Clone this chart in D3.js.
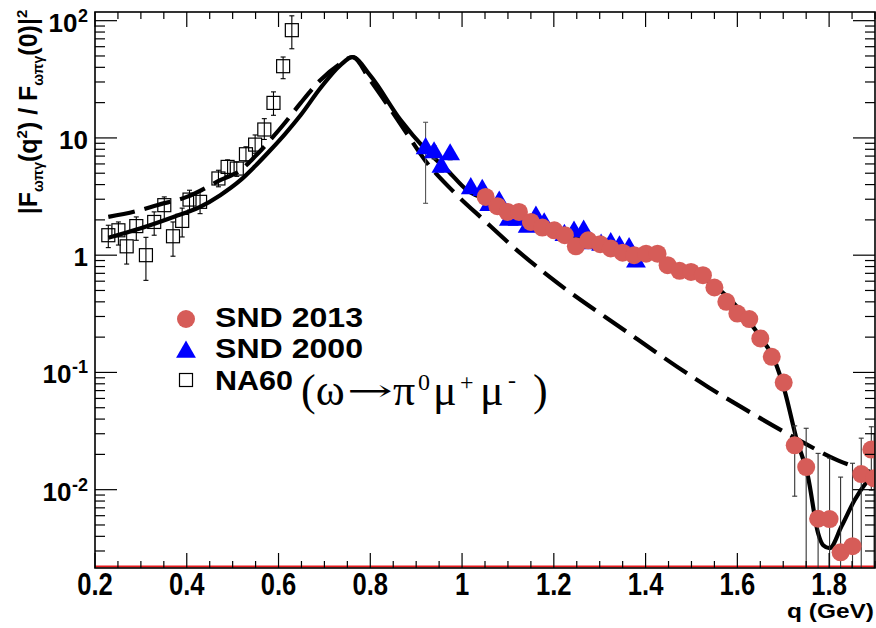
<!DOCTYPE html>
<html><head><meta charset="utf-8">
<script src="https://cdn.jsdelivr.net/npm/d3@7"></script>
<style>body{margin:0;background:#fff}</style>
</head><body><svg id="c" width="876" height="628"></svg>
<script>
// ---- axis data ----
const xDomain=[0.2,1.9];
const yDomain=[Math.pow(10,-2.668),Math.pow(10,2.074)];
const xTickValues=[0.2,0.4,0.6,0.8,1.0,1.2,1.4,1.6,1.8];
const xTickLabels=["0.2","0.4","0.6","0.8","1","1.2","1.4","1.6","1.8"];
const yTickValues=[0.01,0.1,1,10,100];
const yTickBase=["10","10","1","10","10"];
const yTickExp=["-2","-1","","","2"];

// ---- NA60 (open squares) ----
const na60Q=[0.229,0.251,0.269,0.290,0.311,0.329,0.351,0.370,0.390,0.406,0.429,0.469,0.489,0.509,0.529,0.549,0.569,0.589,0.610,0.629];
const na60F=[1.48,1.63,1.19,1.77,1.00,1.92,2.67,1.45,1.96,2.98,2.85,4.51,5.66,5.48,7.26,8.77,11.8,19.9,40.9,83];
const na60Lo=[1.16,1.22,0.84,1.34,0.61,1.48,1.99,0.98,1.43,2.42,2.26,3.83,4.8,4.7,6.25,7.4,9.7,15.6,32,57.6];
const na60Hi=[1.80,1.92,1.53,2.12,1.42,2.34,3.14,1.92,2.52,3.58,3.49,5.3,6.5,6.25,8.4,10.6,14.6,24.7,49,110];

// ---- SND 2000 (blue triangles) ----
const snd00Q=[0.9205,0.939,0.955,0.974,1.019,1.044,1.059,1.081,1.102,1.121,1.143,1.161,1.179,1.223,1.244,1.265,1.281,1.303,1.324,1.343,1.364,1.379];
const snd00F=[8.12,7.5,5.66,7.2,3.70,3.58,2.67,2.85,1.99,1.99,1.74,2.12,1.86,1.48,1.58,1.61,1.26,1.22,1.26,1.18,1.14,0.877];
const snd00Lo=[2.77,6.6,5.1,6.5,3.4,3.3,2.45,2.6,1.85,1.85,1.62,1.97,1.73,1.38,1.47,1.5,1.17,1.13,1.17,1.09,1.05,0.80];
const snd00Hi=[13.6,8.6,6.3,8.0,4.0,3.9,2.9,3.1,2.15,2.15,1.88,2.28,2.0,1.6,1.7,1.73,1.36,1.31,1.36,1.27,1.23,0.95];

// ---- SND 2013 (red circles) ----
const snd13Q=[1.0515,1.077,1.099,1.124,1.150,1.175,1.201,1.224,1.248,1.275,1.301,1.324,1.350,1.375,1.401,1.426,1.448,1.474,1.499,1.525,1.550,1.576,1.600,1.626,1.650,1.675,1.701,1.725,1.750,1.776,1.801,1.825,1.851,1.870,1.892,1.898];
const snd13F=[3.14,2.62,2.34,2.34,1.92,1.72,1.63,1.48,1.19,1.34,1.24,1.14,1.05,1.00,1.03,1.03,0.822,0.735,0.72,0.675,0.53,0.40,0.318,0.285,0.195,0.136,0.082,0.0239,0.0156,0.00565,0.00562,0.00292,0.0033,0.0136,0.0220,0.0125];
const snd13Lo=[3.0,2.5,2.24,2.24,1.84,1.65,1.56,1.42,1.14,1.28,1.18,1.09,1.0,0.95,0.98,0.98,0.78,0.70,0.68,0.64,0.50,0.375,0.295,0.262,0.178,0.122,0.070,0.0088,0.001,0.001,0.001,0.001,0.001,0.001,0.0099,0.001];
const snd13Hi=[3.28,2.74,2.44,2.44,2.0,1.79,1.70,1.54,1.24,1.40,1.30,1.19,1.10,1.05,1.08,1.08,0.865,0.77,0.76,0.71,0.56,0.425,0.342,0.31,0.212,0.152,0.095,0.035,0.0334,0.0204,0.0186,0.0128,0.0168,0.0275,0.0344,0.03];

// ---- theory curves ----
const solidQ=[0.229,0.298,0.371,0.429,0.473,0.517,0.548,0.582,0.615,0.648,0.691,0.735,0.761,0.80,0.866,0.92,0.97,1.011,1.05,1.10,1.15,1.20,1.25,1.30,1.35,1.40,1.45,1.50,1.55,1.60,1.65,1.68,1.703,1.728,1.754,1.776,1.787,1.801,1.827,1.856,1.885,1.90];
const solidF=[1.41,1.69,2.12,2.58,3.25,4.36,5.7,7.85,10.9,15.6,26.5,41.8,48.8,34,14.2,8.0,5.2,3.58,3.0,2.35,1.95,1.65,1.42,1.25,1.1,1.0,0.86,0.72,0.55,0.36,0.2,0.13,0.07,0.028,0.0129,0.00425,0.00336,0.00317,0.00487,0.0082,0.0121,0.0142];
const dashQ=[0.229,0.298,0.335,0.40,0.473,0.517,0.548,0.582,0.615,0.648,0.691,0.735,0.761,0.80,0.84,0.872,0.92,0.982,1.047,1.12,1.186,1.354,1.536,1.608,1.728,1.819,1.899];
const dashF=[2.12,2.42,2.67,3.14,4.36,5.3,6.9,9.6,13.6,19.8,31,43,49,31,18.5,12.1,6.4,3.46,2.0,1.10,0.675,0.229,0.0752,0.0508,0.0273,0.0178,0.0138];

const svg=d3.select("#c");
const L=95,R=875,T=12,B=568;
const x=d3.scaleLinear().domain(xDomain).range([L,R]);
const y=d3.scaleLog().domain(yDomain).range([B,T]);

svg.append("defs").append("clipPath").attr("id","clip")
  .append("rect").attr("x",L).attr("y",T).attr("width",R-L).attr("height",B-T);

const plot=svg.append("g").attr("clip-path","url(#clip)");

// red baseline line
plot.append("line").attr("x1",L).attr("x2",R).attr("y1",B-1.5).attr("y2",B-1.5)
  .attr("stroke","#e8191c").attr("stroke-width",2);

// curves
const line=d3.line().x(d=>x(d[0])).y(d=>y(d[1])).curve(d3.curveMonotoneX);
plot.append("path").datum(dashQ.map((q,i)=>[q,dashF[i]])).attr("d",line)
  .attr("fill","none").attr("stroke","#000").attr("stroke-width",4.2).attr("stroke-dasharray","27,10");
plot.append("path").datum(solidQ.map((q,i)=>[q,solidF[i]])).attr("d",line)
  .attr("fill","none").attr("stroke","#000").attr("stroke-width",4.2);

function errBars(Q,Lo,Hi,color){
  const g=plot.append("g").attr("stroke",color).attr("stroke-width",1.1);
  Q.forEach((q,i)=>{
    const xx=x(q);
    g.append("line").attr("x1",xx).attr("x2",xx).attr("y1",y(Lo[i])).attr("y2",y(Hi[i]));
    g.append("line").attr("x1",xx-2.5).attr("x2",xx+2.5).attr("y1",y(Lo[i])).attr("y2",y(Lo[i]));
    g.append("line").attr("x1",xx-2.5).attr("x2",xx+2.5).attr("y1",y(Hi[i])).attr("y2",y(Hi[i]));
  });
}
errBars(na60Q,na60Lo,na60Hi,"#000");
errBars(snd00Q,snd00Lo,snd00Hi,"#555");
errBars(snd13Q,snd13Lo,snd13Hi,"#333");

// NA60 squares
plot.append("g").selectAll("rect").data(na60Q).join("rect")
  .attr("x",(d,i)=>x(d)-6.5).attr("y",(d,i)=>y(na60F[i])-6.5).attr("width",13).attr("height",13)
  .attr("fill","none").attr("stroke","#000").attr("stroke-width",1.2);

// SND2000 triangles
const tri=d3.symbol().type(d3.symbolTriangle).size(170);
plot.append("g").selectAll("path").data(snd00Q).join("path")
  .attr("d",tri).attr("transform",(d,i)=>`translate(${x(d)},${y(snd00F[i])})`).attr("fill","#0000ff");

// SND2013 circles
plot.append("g").selectAll("circle").data(snd13Q).join("circle")
  .attr("cx",d=>x(d)).attr("cy",(d,i)=>y(snd13F[i])).attr("r",9).attr("fill","#d65c58");

// ---- frame & ticks ----
const ax=svg.append("g").attr("stroke","#000");
ax.append("rect").attr("x",L).attr("y",T).attr("width",R-L).attr("height",B-T).attr("fill","none").attr("stroke-width",1.6);
const xMinor=d3.range(0.2,1.9001,0.05);
xMinor.forEach(v=>{
  const major=xTickValues.some(t=>Math.abs(t-v)<1e-6);
  const len=major?15:7;
  ax.append("line").attr("x1",x(v)).attr("x2",x(v)).attr("y1",B).attr("y2",B-len).attr("stroke-width",1.2);
  ax.append("line").attr("x1",x(v)).attr("x2",x(v)).attr("y1",T).attr("y2",T+len).attr("stroke-width",1.2);
});
const yMinor=[];
[0.001,0.01,0.1,1,10,100].forEach(d=>{for(let k=1;k<10;k++){const v=d*k; if(v>=yDomain[0]&&v<=yDomain[1]) yMinor.push(v);}});
yMinor.forEach(v=>{
  const major=yTickValues.some(t=>Math.abs(t-v)/t<1e-6);
  const len=major?22:10;
  ax.append("line").attr("x1",L).attr("x2",L+len).attr("y1",y(v)).attr("y2",y(v)).attr("stroke-width",1.2);
  ax.append("line").attr("x1",R).attr("x2",R-len).attr("y1",y(v)).attr("y2",y(v)).attr("stroke-width",1.2);
});

const font="'Liberation Sans', Arial, Helvetica, sans-serif";
// x tick labels
svg.append("g").selectAll("text").data(xTickValues).join("text")
  .attr("transform",d=>`translate(${x(d)},595) scale(0.8,1)`)
  .attr("text-anchor","middle").attr("font-family",font).attr("font-weight","bold").attr("font-size",32)
  .text((d,i)=>xTickLabels[i]);
// y tick labels
const yl=svg.append("g");
yTickValues.forEach((v,i)=>{
  let baseEnd=88;
  if(yTickExp[i]){
    const e=yl.append("text").attr("x",88).attr("y",y(v)+1).attr("text-anchor","end").attr("font-family",font)
      .attr("font-weight","bold").attr("font-size",18).text(yTickExp[i]);
    baseEnd=88-e.node().getComputedTextLength()-0.5;
  }
  yl.append("text").attr("x",baseEnd).attr("y",y(v)+11).attr("text-anchor","end").attr("font-family",font)
    .attr("font-weight","bold").attr("font-size",26).text(yTickBase[i]);
});

// axis titles
const qt=svg.append("text").attr("text-anchor","end")
  .attr("font-family",font).attr("font-weight","bold").attr("font-size",20).text("q (GeV)");
const qw=qt.node().getComputedTextLength();
qt.attr("transform",`translate(874,618) scale(${87/qw},1)`);

const yt=svg.append("text").attr("transform","translate(37,112) rotate(-90)").attr("text-anchor","middle")
  .attr("font-family",font).attr("font-weight","bold").attr("font-size",25);
yt.append("tspan").text("|F");
yt.append("tspan").attr("font-size",14).attr("dy",6).text("ωπγ");
yt.append("tspan").attr("dy",-6).text("(q");
yt.append("tspan").attr("font-size",15).attr("dy",-10).text("2");
yt.append("tspan").attr("dy",10).text(") / F");
yt.append("tspan").attr("font-size",14).attr("dy",6).text("ωπγ");
yt.append("tspan").attr("dy",-6).text("(0)|");
yt.append("tspan").attr("font-size",15).attr("dy",-10).text("2");

// ---- legend ----
const lg=svg.append("g");
lg.append("circle").attr("cx",186).attr("cy",319).attr("r",9).attr("fill","#d65c58");
lg.append("path").attr("d",tri).attr("transform","translate(186,352)").attr("fill","#0000ff");
lg.append("rect").attr("x",179.5).attr("y",373.5).attr("width",13).attr("height",13).attr("fill","none").attr("stroke","#000").attr("stroke-width",1.2);
const legendLabels=["SND 2013","SND 2000","NA60"];
const legendLens=[148,148,78];
const legendBase=[327,358,390];
legendLabels.forEach((s,i)=>{
  lg.append("text").attr("x",215).attr("y",legendBase[i]).attr("font-family",font).attr("font-weight","bold")
    .attr("font-size",27).attr("textLength",legendLens[i]).attr("lengthAdjust","spacingAndGlyphs").text(s);
});
const serif="'Liberation Serif','Times New Roman',serif";
const rx=lg.append("text").attr("y",405).attr("font-family",serif).attr("font-size",44);
rx.append("tspan").attr("x",301).text("(ω");
rx.append("tspan").attr("x",393).text("π");
rx.append("tspan").attr("x",418).attr("y",390).attr("font-size",24).text("0");
rx.append("tspan").attr("x",433).attr("y",405).text("μ");
rx.append("tspan").attr("x",460).attr("y",390).attr("font-size",24).text("+");
rx.append("tspan").attr("x",480).attr("y",405).text("μ");
rx.append("tspan").attr("x",508).attr("y",388).attr("font-size",24).text("-");
rx.append("tspan").attr("x",533).attr("y",405).text(")");
// long arrow, stretched to its width in the reference
const arrow=lg.append("text").attr("font-family","'DejaVu Serif',serif").attr("font-size",30).text("→");
const aw=arrow.node().getComputedTextLength();
arrow.attr("transform",`translate(347,401) scale(${46/aw},1)`);
</script></body></html>
